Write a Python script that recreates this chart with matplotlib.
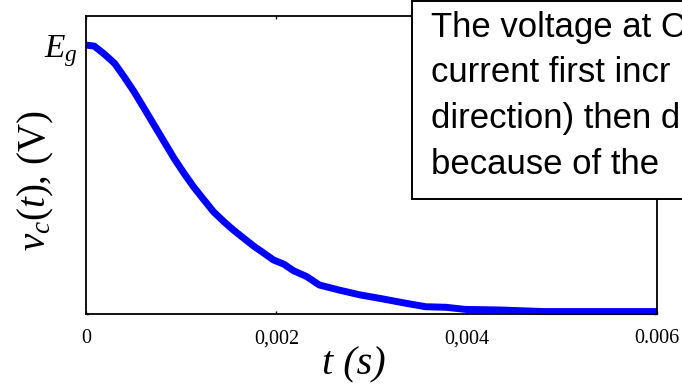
import matplotlib
matplotlib.use("Agg")
import matplotlib.pyplot as plt
from matplotlib.patches import Rectangle
import numpy as np

plt.rcParams['mathtext.fontset'] = 'custom'
plt.rcParams['mathtext.rm'] = 'Liberation Serif'
plt.rcParams['mathtext.it'] = 'Liberation Serif:italic'

# capacitor voltage, normalised to Eg
t_s = [0, 0.000087, 0.00019, 0.0003, 0.0004, 0.000506, 0.00061, 0.000715,
       0.00082, 0.000925, 0.00103, 0.00113, 0.00124, 0.00134, 0.00145,
       0.00155, 0.00166, 0.00176, 0.00187, 0.00197, 0.00208, 0.00218,
       0.00232, 0.00245, 0.00266, 0.00288, 0.00312, 0.00336, 0.00357,
       0.00378, 0.00399, 0.00434, 0.00482, 0.006]
vc = [1.0, 0.996, 0.967, 0.932, 0.882, 0.826, 0.765, 0.703, 0.641, 0.579,
      0.523, 0.473, 0.424, 0.380, 0.343, 0.312, 0.281, 0.253, 0.226, 0.201,
      0.185, 0.161, 0.139, 0.108, 0.089, 0.071, 0.056, 0.040, 0.027, 0.025,
      0.017, 0.015, 0.009, 0.009]

xticks = [0, 0.002, 0.004, 0.006]
xticklabels = ['0', '0,002', '0,004', '0.006']
note_lines = ['The voltage at C', 'current first incr',
              'direction) then d', 'because of the']

W, H = 682, 386
fig = plt.figure(figsize=(W / 100, H / 100), dpi=100)
ax = fig.add_axes([86 / W, 72 / H, 571 / W, 298 / H])

ax.plot(t_s, vc, color='#0000ff', lw=5, solid_capstyle='butt', clip_on=False)
ax.set_xlim(0, 0.006)
ax.set_ylim(0, 1.108)

ax.set_xticks(xticks)
ax.set_xticklabels(xticklabels, family='Liberation Serif', fontsize=14.5)
ax.set_yticks([0, 1])
ax.set_yticklabels(['', '$E_g$'], fontsize=24)
ax.tick_params(axis='x', pad=11)
ax.tick_params(direction='in', length=2.5, width=1, top=True, right=True)
ax.tick_params(axis='y', pad=6)
for s in ax.spines.values():
    s.set_linewidth(1.3)

fig.text(354 / W, 1 - 365 / H, 't (s)', family='Liberation Serif', style='italic',
         fontsize=29, ha='center', va='center')
fig.text(36 / W, 1 - 181 / H, '$v_c(t)$, (V)', family='Liberation Serif',
         fontsize=28, rotation=90, ha='center', va='center')

# note box over the top right corner
fig.add_artist(Rectangle((412 / W, 1 - 199 / H), 300 / W, 198.5 / H,
                         transform=fig.transFigure, facecolor='white',
                         edgecolor='black', lw=1.4, zorder=10))
for y, line in zip([37, 82, 128, 174], note_lines):
    fig.text(431 / W, 1 - y / H, line, family='Liberation Sans',
             fontsize=25, va='baseline', ha='left', zorder=11)

fig.savefig('out.png', dpi=100)
